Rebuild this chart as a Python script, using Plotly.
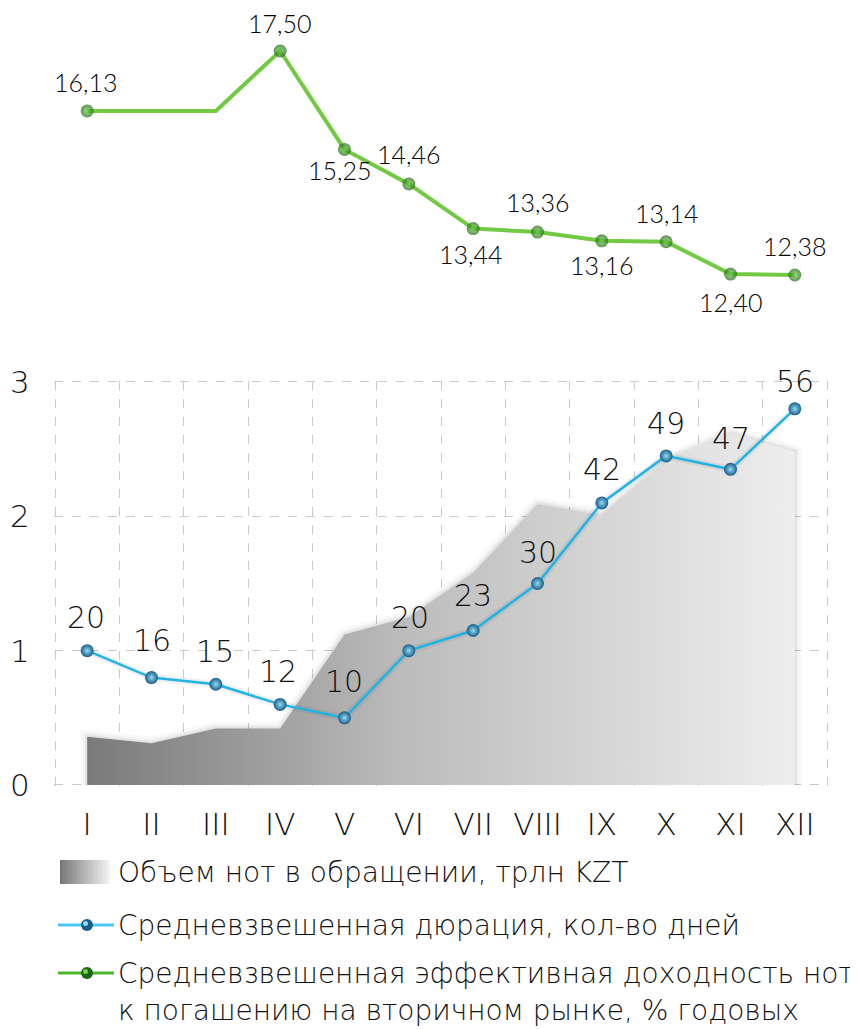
import plotly.graph_objects as go

# page body has an 8px default margin: map screen px -> paper px by subtracting OFF
OFF = 8
W, H = 858, 1029

months = ["I", "II", "III", "IV", "V", "VI", "VII", "VIII", "IX", "X", "XI", "XII"]
volume = [0.36, 0.31, 0.42, 0.42, 1.12, 1.25, 1.58, 2.09, 2.01, 2.42, 2.62, 2.48]
duration = [20, 16, 15, 12, 10, 20, 23, 30, 42, 49, 47, 56]
yield_ = [16.13, 16.13, 16.13, 17.50, 15.25, 14.46, 13.44, 13.36, 13.16, 13.14, 12.40, 12.38]
yield_shown = [True, False, False, True, True, True, True, True, True, True, True, True]
y_ticks = [0, 1, 2, 3]

legend_labels = [
    "Объем нот в обращении, трлн KZT",
    "Средневзвешенная дюрация, кол-во дней",
    "Средневзвешенная эффективная доходность нот",
    "к погашению на вторичном рынке, % годовых",
]

# style: label offsets (px) for labels (dx, dy)
yield_label_off = [(-2, -29), (0, 0), (0, 0), (-1, -28), (-5, 21), (0, -30),
                   (-3, 25), (0, -30), (0, 24), (0, -29), (0, 28), (0, -29)]
dur_label_off = [(-1, -33), (0, -37), (-1, -33), (-2, -33), (-1, -36), (1, -33),
                 (0, -35), (0, -31), (0, -33), (0, -32), (0, -31), (0, -27)]

x = list(range(len(months)))

FONT_THIN = "DejaVu Sans"
TXT = "#111111"


def px_x(p):
    return (p - OFF) / W


def px_y(p):
    return 1 - (p - OFF) / H


fig = go.Figure()

# soft shadow along the area edge
sx = [x[0]] + x + [x[-1]]
sy = [0] + volume + [0]
for wdt, alpha in [(14, 0.025), (8, 0.035), (4, 0.05)]:
    fig.add_trace(go.Scatter(
        x=sx, y=sy, mode="lines", line=dict(width=wdt, color=f"rgba(0,0,0,{alpha})"),
        xaxis="x", yaxis="y", showlegend=False, hoverinfo="skip",
    ))

# area: volume of notes
fig.add_trace(go.Scatter(
    x=x, y=volume, mode="lines", line=dict(width=0, color="rgba(0,0,0,0)"),
    fill="tozeroy",
    fillgradient=dict(type="horizontal",
                      colorscale=[[0, "#7a7a7a"], [0.45, "#bcbcbc"], [1, "#eeeeee"]]),
    xaxis="x", yaxis="y", showlegend=False, hoverinfo="skip",
))

# duration line (secondary hidden axis)
fig.add_trace(go.Scatter(
    x=x, y=duration, mode="lines", line=dict(color="rgba(0,0,0,0.06)", width=7),
    xaxis="x", yaxis="y2", showlegend=False, hoverinfo="skip",
))
fig.add_trace(go.Scatter(
    x=x, y=duration, mode="lines+markers",
    line=dict(color="#20b4e6", width=2.5),
    marker=dict(size=13, color="#1b5d88",
                gradient=dict(type="radial", color="#8fdcf7"),
                line=dict(width=0)),
    xaxis="x", yaxis="y2", showlegend=False,
))

# yield line (top panel)
fig.add_trace(go.Scatter(
    x=x, y=yield_, mode="lines+markers",
    line=dict(color="#72ca42", width=4),
    marker=dict(size=[13 if s else 0 for s in yield_shown], color="#1c6410",
                gradient=dict(type="radial", color="#6fd24a"),
                line=dict(width=0)),
    xaxis="x3", yaxis="y3", showlegend=False,
))

annotations = []
for i, (v, s) in enumerate(zip(yield_, yield_shown)):
    if not s:
        continue
    dx, dy = yield_label_off[i]
    annotations.append(dict(
        x=x[i], y=v, xref="x3", yref="y3", text=f"{v:.2f}".replace(".", ","),
        showarrow=False, xshift=dx, yshift=-dy,
        font=dict(family="Lato", size=25, color="#000000", weight=300),
    ))
for i, v in enumerate(duration):
    dx, dy = dur_label_off[i]
    annotations.append(dict(
        x=x[i], y=v, xref="x", yref="y2", text=str(v),
        showarrow=False, xshift=dx, yshift=-dy,
        font=dict(family=FONT_THIN, size=30, color=TXT, weight=200),
    ))

shapes = []
# legend: gradient square
n = 30
x0, x1, ya, yb = 60, 110, 860, 884
c0, c1 = (0x78, 0x78, 0x78), (0xf2, 0xf2, 0xf2)
for k in range(n):
    t = k / (n - 1)
    col = "rgb(%d,%d,%d)" % tuple(int(c0[j] + (c1[j] - c0[j]) * t) for j in range(3))
    shapes.append(dict(type="rect", xref="paper", yref="paper",
                       x0=px_x(x0 + (x1 - x0) * k / n), x1=px_x(x0 + (x1 - x0) * (k + 1) / n + 0.5),
                       y0=px_y(yb), y1=px_y(ya), line=dict(width=0), fillcolor=col, layer="above"))

for yy, lc, mc, ec in [(925, "#4cc6ec", "#8fdcf7", "#1b5d88"), (973, "#4ab82a", "#6fd24a", "#1c6410")]:
    shapes.append(dict(type="line", xref="paper", yref="paper",
                       x0=px_x(58), x1=px_x(114), y0=px_y(yy), y1=px_y(yy),
                       line=dict(color=lc, width=3)))
    shapes.append(dict(type="circle", xref="paper", yref="paper",
                       x0=px_x(81), x1=px_x(93), y0=px_y(yy + 6), y1=px_y(yy - 6),
                       fillcolor=ec, line=dict(width=0)))
    shapes.append(dict(type="circle", xref="paper", yref="paper",
                       x0=px_x(83), x1=px_x(88), y0=px_y(yy + 1), y1=px_y(yy - 4),
                       fillcolor=mc, line=dict(width=0)))

for lab, yy in zip(legend_labels, [872, 925, 973, 1010]):
    annotations.append(dict(
        x=px_x(116), y=px_y(yy), xref="paper", yref="paper", text=lab,
        showarrow=False, xanchor="left", yanchor="middle",
        font=dict(family=FONT_THIN, size=28, color=TXT, weight=200),
    ))

GRID = "#c9c9c9"
EPSX, EPSY = 0.02, 0.01
unit_x = (827 - 55) / 12.0
unit_y = (785 - 382) / 3.0
xdom = [px_x(55 - EPSX * unit_x), px_x(827 + EPSX * unit_x)]
ydom = [px_y(785 + EPSY * unit_y), px_y(382 - EPSY * unit_y)]
xr = [-0.5 - EPSX, 11.5 + EPSX]
fig.update_layout(
    width=W, height=H,
    margin=dict(l=0, r=0, t=0, b=0, pad=0, autoexpand=False),
    paper_bgcolor="white", plot_bgcolor="rgba(0,0,0,0)",
    xaxis=dict(domain=xdom, range=xr, tickvals=x, ticktext=months,
               showgrid=False, zeroline=False, showline=False, automargin=False,
               ticks="", ticklabelstandoff=17,
               tickfont=dict(family=FONT_THIN, size=31, color=TXT, weight=200),
               anchor="y"),
    xaxis2=dict(domain=xdom, range=xr, overlaying="x", anchor="y", automargin=False,
                tickvals=[i - 0.5 for i in range(13)], showticklabels=False,
                showgrid=True, gridcolor=GRID, griddash="dash", gridwidth=1,
                zeroline=False, showline=False, ticks=""),
    yaxis=dict(domain=ydom, range=[-EPSY, 3 + EPSY], tickvals=y_ticks,
               showgrid=True, gridcolor=GRID, griddash="dash", gridwidth=1,
               zeroline=False, showline=False, ticks="", ticklabelstandoff=23,
               automargin=False,
               tickfont=dict(family=FONT_THIN, size=31, color=TXT, weight=200),
               anchor="x"),
    yaxis2=dict(domain=ydom, range=[-EPSY * 20, 60 + EPSY * 20], overlaying="y",
                visible=False, anchor="x", automargin=False),
    xaxis3=dict(domain=xdom, range=xr, visible=False, anchor="y3", automargin=False),
    yaxis3=dict(domain=[px_y(291.6), px_y(29.1)], range=[12, 18], visible=False,
                anchor="x3", automargin=False),
    annotations=annotations,
    shapes=shapes,
    showlegend=False,
)

# invisible trace to activate xaxis2 gridlines
fig.add_trace(go.Scatter(x=[0], y=[0], xaxis="x2", yaxis="y", mode="markers",
                         marker=dict(opacity=0), showlegend=False, hoverinfo="skip"))

fig.write_html("out.html")
